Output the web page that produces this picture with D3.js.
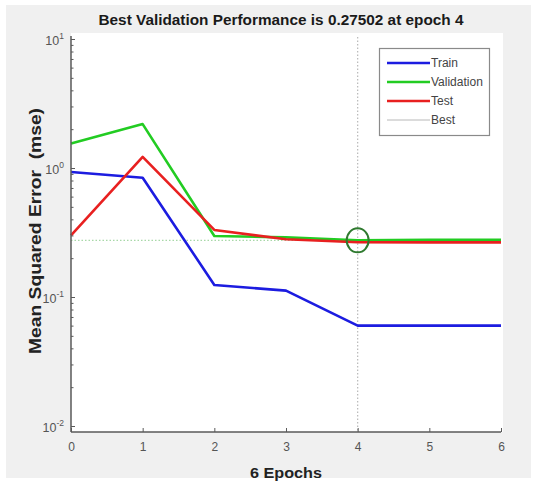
<!DOCTYPE html>
<html>
<head>
<meta charset="utf-8">
<script src="https://cdn.jsdelivr.net/npm/d3@7"></script>
<style>
  html, body { margin: 0; padding: 0; background: #ffffff; }
  svg { display: block; font-family: "Liberation Sans", Arial, sans-serif; }
  .keep-space { white-space: pre; }
</style>
</head>
<body>
<svg id="chart" width="533" height="482"></svg>
<script>
// Training record of a neural network: mean squared error per epoch
const epochs = [0, 1, 2, 3, 4, 5, 6];
const trainMse = [0.93, 0.84, 0.124, 0.112, 0.060, 0.060, 0.060];
const validationMse = [1.55, 2.19, 0.297, 0.290, 0.27502, 0.277, 0.278];
const testMse = [0.300, 1.22, 0.331, 0.280, 0.266, 0.265, 0.265];
const bestEpoch = 4;
const bestPerf = 0.27502;
const xTickValues = [0, 1, 2, 3, 4, 5, 6];
const yTickExponents = [-2, -1, 0, 1];
const legendNames = ["Train", "Validation", "Test", "Best"];
const titleText = "Best Validation Performance is 0.27502 at epoch 4";
const xLabelText = "6 Epochs";
const yLabelText = "Mean Squared Error  (mse)";

const colors = { train: "#1c1ce0", validation: "#22cc22", test: "#e82020", best: "#b8b8b8" };

const svg = d3.select("#chart");

// figure background
svg.append("rect").attr("x", 6).attr("y", 5).attr("width", 525).attr("height", 473).attr("fill", "#f0f0f0");

// axes box
const box = { left: 71, right: 503, top: 33, bottom: 432 };
svg.append("rect")
  .attr("x", box.left).attr("y", box.top)
  .attr("width", box.right - box.left).attr("height", box.bottom - box.top)
  .attr("fill", "#ffffff");

const x = d3.scaleLinear().domain([0, 6]).range([71, 501]);
const y = d3.scaleLog().domain([0.01, 10]).range([426, 39]);

// best epoch markers (dotted)
svg.append("line")
  .attr("x1", x(0)).attr("x2", x(6))
  .attr("y1", y(bestPerf)).attr("y2", y(bestPerf))
  .attr("stroke", "#a8d8a8").attr("stroke-width", 1.2).attr("stroke-dasharray", "1.5,2");
svg.append("line")
  .attr("x1", x(bestEpoch)).attr("x2", x(bestEpoch))
  .attr("y1", 37).attr("y2", box.bottom)
  .attr("stroke", colors.best).attr("stroke-width", 1.2).attr("stroke-dasharray", "1.5,2");

// data lines
const line = d3.line().x((d, i) => x(epochs[i])).y(d => y(d));
[[trainMse, colors.train], [validationMse, colors.validation], [testMse, colors.test]].forEach(([vals, c]) => {
  svg.append("path").datum(vals)
    .attr("d", line)
    .attr("fill", "none").attr("stroke", c).attr("stroke-width", 2.6)
    .attr("stroke-linejoin", "round");
});

// best point circle
svg.append("ellipse")
  .attr("cx", x(bestEpoch)).attr("cy", y(bestPerf))
  .attr("rx", 11).attr("ry", 12)
  .attr("fill", "none").attr("stroke", "#2f7a2f").attr("stroke-width", 2);

// axis lines
const axisColor = "#5a5a5a";
svg.append("line").attr("x1", box.left).attr("x2", box.left).attr("y1", 36).attr("y2", box.bottom)
  .attr("stroke", axisColor).attr("stroke-width", 1.5);
svg.append("line").attr("x1", box.left).attr("x2", x(6)).attr("y1", box.bottom).attr("y2", box.bottom)
  .attr("stroke", axisColor).attr("stroke-width", 1.5);

// x axis ticks (inward) and labels
const xAxis = d3.axisBottom(x).tickValues(xTickValues).tickSize(-4).tickPadding(10).tickFormat(d3.format("d"));
const gx = svg.append("g").attr("transform", `translate(0,${box.bottom})`).call(xAxis);
gx.select(".domain").remove();
gx.selectAll(".tick line").attr("stroke", axisColor);
gx.selectAll(".tick text").attr("fill", "#555").attr("font-size", 12)
  .attr("font-family", "Liberation Sans, Arial, sans-serif");

// y axis: major and minor log ticks, pointing inward
const minorTicks = [];
for (let e = -2; e < 1; e++) for (let m = 2; m <= 9; m++) minorTicks.push(m * Math.pow(10, e));
const yMinor = d3.axisLeft(y).tickValues(minorTicks).tickSize(-2.5).tickFormat("");
const gym = svg.append("g").attr("transform", `translate(${box.left},0)`).call(yMinor);
gym.select(".domain").remove();
gym.selectAll(".tick line").attr("stroke", axisColor);

const yMajor = d3.axisLeft(y).tickValues(yTickExponents.map(e => Math.pow(10, e))).tickSize(-4).tickFormat("");
const gy = svg.append("g").attr("transform", `translate(${box.left},0)`).call(yMajor);
gy.select(".domain").remove();
gy.selectAll(".tick line").attr("stroke", axisColor);

yTickExponents.forEach(e => {
  const t = svg.append("text")
    .attr("x", 64).attr("y", y(Math.pow(10, e)) + 6)
    .attr("text-anchor", "end").attr("fill", "#555").attr("font-size", 12.5);
  t.append("tspan").text("10");
  t.append("tspan").attr("dy", -6).attr("font-size", 8.5).text(String(e));
});

// title and axis labels
svg.append("text").attr("x", 281).attr("y", 25).attr("text-anchor", "middle")
  .attr("font-weight", "bold").attr("font-size", 15).attr("fill", "#1a1a1a")
  .attr("textLength", 365).attr("lengthAdjust", "spacingAndGlyphs").text(titleText);
svg.append("text").attr("x", 286).attr("y", 478).attr("text-anchor", "middle")
  .attr("font-weight", "bold").attr("font-size", 15).attr("fill", "#222")
  .attr("textLength", 72).attr("lengthAdjust", "spacingAndGlyphs").text(xLabelText);
svg.append("text").attr("class", "keep-space")
  .attr("transform", "translate(41,231) rotate(-90)").attr("text-anchor", "middle")
  .attr("font-weight", "bold").attr("font-size", 16).attr("fill", "#222")
  .attr("textLength", 246).attr("lengthAdjust", "spacingAndGlyphs").text(yLabelText);

// legend
const lg = svg.append("g");
lg.append("rect").attr("x", 379.5).attr("y", 48.5).attr("width", 110).attr("height", 87)
  .attr("fill", "#ffffff").attr("stroke", "#8a8a8a").attr("stroke-width", 1.2);
const legendColors = [colors.train, colors.validation, colors.test, colors.best];
legendNames.forEach((name, i) => {
  const ly = 63 + i * 19;
  lg.append("line").attr("x1", 387).attr("x2", 430).attr("y1", ly).attr("y2", ly)
    .attr("stroke", legendColors[i]).attr("stroke-width", i === 3 ? 1 : 2.6);
  lg.append("text").attr("x", 431).attr("y", ly + 4).attr("font-size", 12).attr("fill", "#444").text(name);
});
</script>
</body>
</html>
